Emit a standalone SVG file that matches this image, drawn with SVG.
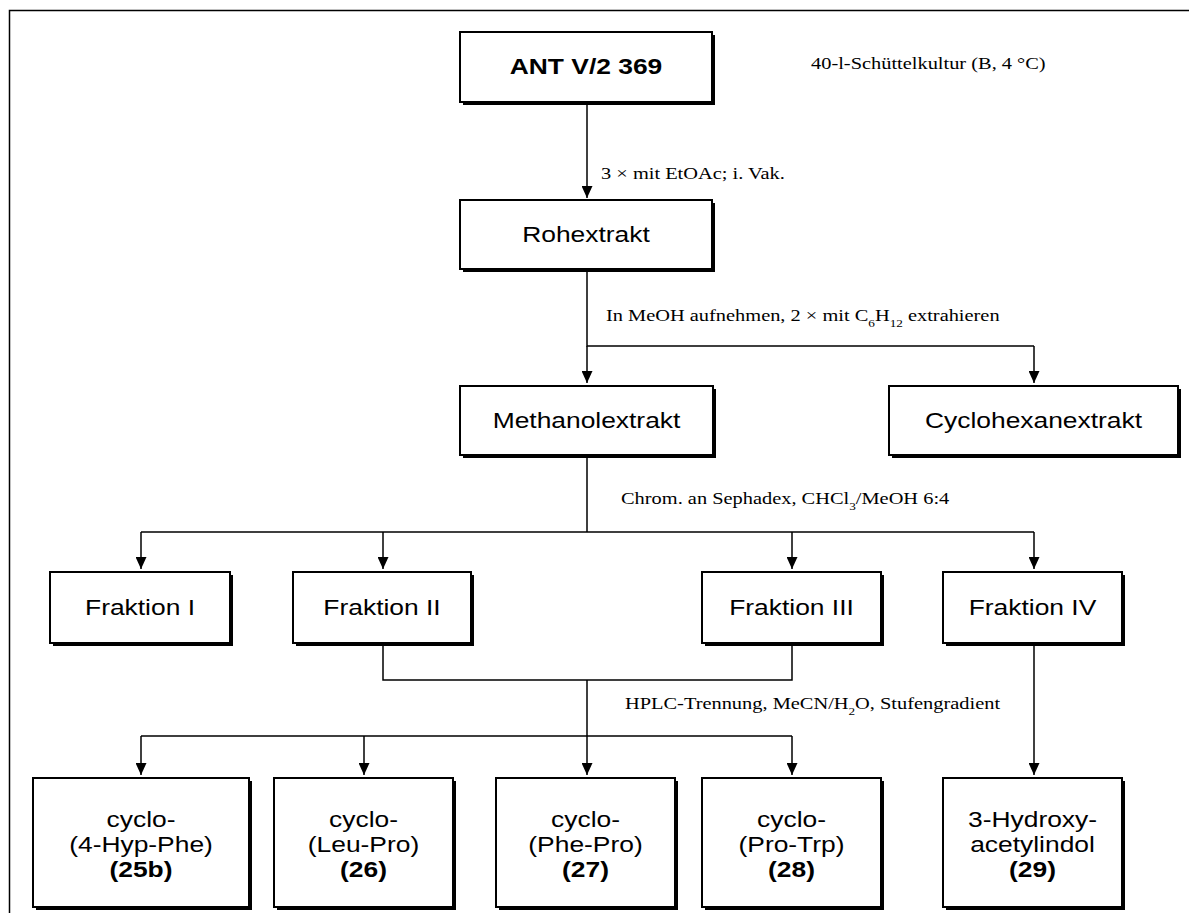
<svg xmlns="http://www.w3.org/2000/svg" width="1189" height="913" viewBox="0 0 1189 913">
<defs>
<style>
.sh{fill:#000}
.bx{fill:#fff;stroke:#000;stroke-width:2}
.c{fill:none;stroke:#000;stroke-width:1.5}
.a{marker-end:url(#ah)}
.t{font-family:"Liberation Sans",Arial,sans-serif;font-size:22px;text-anchor:middle;fill:#000}
.b{font-weight:bold}
.n{font-family:"Liberation Serif","Times New Roman",serif;font-size:17px;fill:#000}
.sb{font-size:11px}
</style>
<marker id="ah" viewBox="0 0 12 11" markerWidth="12" markerHeight="11" refX="12" refY="5.5" orient="auto" markerUnits="userSpaceOnUse">
<path d="M0,0 L12,5.5 L0,11 z" fill="#000"/>
</marker>
</defs>
<rect width="1189" height="913" fill="#fff"/>
<path d="M9.5,913 V10.5 H1189" fill="none" stroke="#000" stroke-width="1.5"/>

<g id="connectors">
<path class="c a" d="M587,102 V198"/>
<path class="c" d="M587,269 V346 H1034"/>
<path class="c a" d="M587,346 V383"/>
<path class="c a" d="M1034,346 V383"/>
<path class="c" d="M587,455 V532 M141,532 H1034"/>
<path class="c a" d="M141,532 V569"/>
<path class="c a" d="M383,532 V569"/>
<path class="c a" d="M792,532 V569"/>
<path class="c a" d="M1034,532 V569"/>
<path class="c" d="M383,643 V680 H792 V643 M141,736 H792"/>
<path class="c a" d="M587,680 V775"/>
<path class="c a" d="M141,736 V775"/>
<path class="c a" d="M364,736 V775"/>
<path class="c a" d="M792,736 V775"/>
<path class="c a" d="M1034,643 V775"/>
<text class="n" transform="matrix(1.2 0 0 1 601 179)">3 × mit EtOAc; i. Vak.</text>
<text class="n" transform="matrix(1.2 0 0 1 606 321)">In MeOH aufnehmen, 2 × mit C<tspan class="sb" baseline-shift="sub">6</tspan>H<tspan class="sb" baseline-shift="sub">12</tspan> extrahieren</text>
<text class="n" transform="matrix(1.2 0 0 1 621 504)">Chrom. an Sephadex, CHCl<tspan class="sb" baseline-shift="sub">3</tspan>/MeOH 6:4</text>
<text class="n" transform="matrix(1.2 0 0 1 625 709)">HPLC-Trennung, MeCN/H<tspan class="sb" baseline-shift="sub">2</tspan>O, Stufengradient</text>
</g>

<text class="n" transform="matrix(1.2 0 0 1 811 69)">40-l-Schüttelkultur (B, 4 °C)</text>

<g id="n-ant">
<rect class="sh" x="463" y="35" width="252" height="70"/>
<rect class="bx" x="460" y="32" width="252" height="70"/>
<text class="t b" transform="matrix(1.2 0 0 1 586 74)">ANT V/2 369</text>
</g>
<g id="n-roh">
<rect class="sh" x="463" y="203" width="252" height="69"/>
<rect class="bx" x="460" y="200" width="252" height="69"/>
<text class="t" transform="matrix(1.2 0 0 1 586 242)">Rohextrakt</text>
</g>
<g id="n-meth">
<rect class="sh" x="463" y="389" width="253" height="69"/>
<rect class="bx" x="460" y="386" width="253" height="69"/>
<text class="t" transform="matrix(1.2 0 0 1 586.5 428)">Methanolextrakt</text>
</g>
<g id="n-cyc">
<rect class="sh" x="892" y="389" width="289" height="69"/>
<rect class="bx" x="889" y="386" width="289" height="69"/>
<text class="t" transform="matrix(1.2 0 0 1 1033.5 428)">Cyclohexanextrakt</text>
</g>
<g id="n-f1">
<rect class="sh" x="53" y="575" width="180" height="71"/>
<rect class="bx" x="50" y="572" width="180" height="71"/>
<text class="t" transform="matrix(1.2 0 0 1 140 615)">Fraktion I</text>
</g>
<g id="n-f2">
<rect class="sh" x="296" y="575" width="178" height="71"/>
<rect class="bx" x="293" y="572" width="178" height="71"/>
<text class="t" transform="matrix(1.2 0 0 1 382 615)">Fraktion II</text>
</g>
<g id="n-f3">
<rect class="sh" x="705" y="575" width="179" height="71"/>
<rect class="bx" x="702" y="572" width="179" height="71"/>
<text class="t" transform="matrix(1.2 0 0 1 791.5 615)">Fraktion III</text>
</g>
<g id="n-f4">
<rect class="sh" x="946" y="575" width="179" height="71"/>
<rect class="bx" x="943" y="572" width="179" height="71"/>
<text class="t" transform="matrix(1.2 0 0 1 1032.5 615)">Fraktion IV</text>
</g>
<g id="n-25b">
<rect class="sh" x="36" y="781" width="216" height="129"/>
<rect class="bx" x="33" y="778" width="216" height="129"/>
<text class="t" transform="matrix(1.2 0 0 1 141 827)">cyclo-</text>
<text class="t" transform="matrix(1.2 0 0 1 141 852)">(4-Hyp-Phe)</text>
<text class="t b" transform="matrix(1.2 0 0 1 141 877)">(25b)</text>
</g>
<g id="n-26">
<rect class="sh" x="277" y="781" width="179" height="129"/>
<rect class="bx" x="274" y="778" width="179" height="129"/>
<text class="t" transform="matrix(1.2 0 0 1 363.5 827)">cyclo-</text>
<text class="t" transform="matrix(1.2 0 0 1 363.5 852)">(Leu-Pro)</text>
<text class="t b" transform="matrix(1.2 0 0 1 363.5 877)">(26)</text>
</g>
<g id="n-27">
<rect class="sh" x="499" y="781" width="179" height="129"/>
<rect class="bx" x="496" y="778" width="179" height="129"/>
<text class="t" transform="matrix(1.2 0 0 1 585.5 827)">cyclo-</text>
<text class="t" transform="matrix(1.2 0 0 1 585.5 852)">(Phe-Pro)</text>
<text class="t b" transform="matrix(1.2 0 0 1 585.5 877)">(27)</text>
</g>
<g id="n-28">
<rect class="sh" x="705" y="781" width="179" height="129"/>
<rect class="bx" x="702" y="778" width="179" height="129"/>
<text class="t" transform="matrix(1.2 0 0 1 791.5 827)">cyclo-</text>
<text class="t" transform="matrix(1.2 0 0 1 791.5 852)">(Pro-Trp)</text>
<text class="t b" transform="matrix(1.2 0 0 1 791.5 877)">(28)</text>
</g>
<g id="n-29">
<rect class="sh" x="946" y="781" width="179" height="129"/>
<rect class="bx" x="943" y="778" width="179" height="129"/>
<text class="t" transform="matrix(1.2 0 0 1 1032.5 827)">3-Hydroxy-</text>
<text class="t" transform="matrix(1.2 0 0 1 1032.5 852)">acetylindol</text>
<text class="t b" transform="matrix(1.2 0 0 1 1032.5 877)">(29)</text>
</g>
</svg>
